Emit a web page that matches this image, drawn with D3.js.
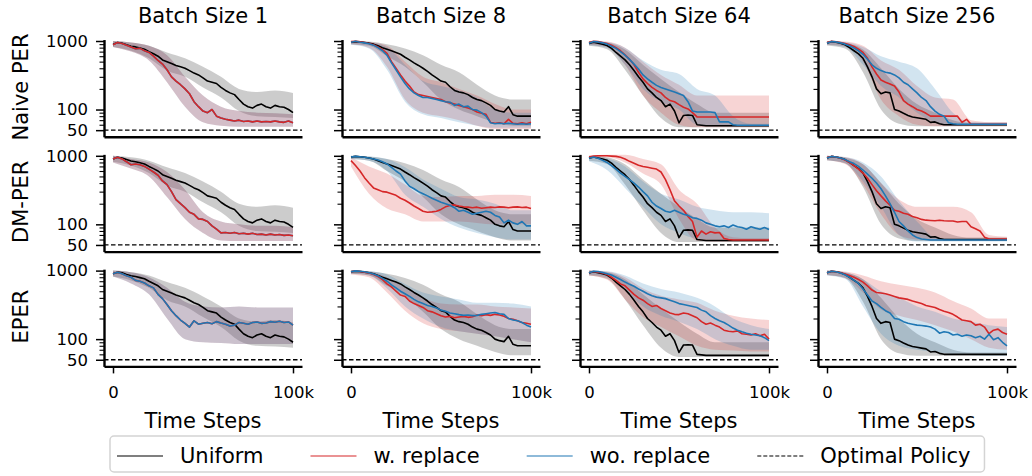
<!DOCTYPE html>
<html>
<head>
<meta charset="utf-8">
<title>PER variants by batch size</title>
<script src="https://d3js.org/d3.v7.min.js"></script>
<style>
  body { margin: 0; background: #fff; }
  svg { font-family: 'DejaVu Sans', sans-serif; }
</style>
</head>
<body>
<script>
// ---- labels / ticks
const batchTitles = ['Batch Size 1', 'Batch Size 8', 'Batch Size 64', 'Batch Size 256'];
const rowNames = ['Naive PER', 'DM-PER', 'EPER'];
const xTicks = [0, 100000];
const xTickLabels = ['0', '100k'];
const yMajor = [50, 100, 1000];
const yMinor = [60, 70, 80, 90, 200, 300, 400, 500, 600, 700, 800, 900];
const optimal = 50;
const steps = d3.range(0, 100001, 2500);     // 41 samples
const bandSteps = d3.range(0, 100001, 10000); // 11 samples

// ---- Uniform (same for every PER row)
const uni1 = [900,950,930,880,840,820,790,760,700,650,600,530,500,470,440,420,400,370,340,320,290,260,250,240,210,190,175,165,140,120,110,105,115,120,110,105,115,110,108,100,90];
const uni1Lo = [820,720,560,370,300,210,150,95,80,78,75];
const uni1Hi = [1000,950,850,680,560,420,300,200,180,190,175];
const uni8 = [960,980,970,950,930,900,850,800,760,720,680,640,580,530,480,440,400,360,320,290,260,250,215,190,180,175,165,150,140,135,125,115,100,95,92,110,84,80,80,80,80];
const uni8Lo = [900,850,600,420,250,140,100,80,65,58,58];
const uni8Hi = [1000,980,900,780,620,450,350,230,160,140,140];
const uni64 = [920,960,930,900,860,780,680,600,530,450,370,300,250,200,175,150,135,110,120,95,64,82,83,82,60,59,58,58,58,58,58,58,58,58,58,58,58,58,58,58,58];
const uni64Lo = [850,760,380,160,75,55,55,55,55,55,55];
const uni64Hi = [1000,950,750,450,280,180,120,90,90,90,90];
const uni256 = [930,980,960,930,880,800,720,650,560,420,300,200,170,180,175,100,95,88,82,78,76,74,72,65,66,62,60,60,60,60,60,60,60,60,60,60,60,60,60,60,60];
const uni256Lo = [860,780,350,100,62,57,57,57,57,57,57];
const uni256Hi = [1000,940,750,400,200,120,90,70,64,64,64];

// ---- Naive PER (batch 1: with and without replacement coincide)
const naiveW1 = [880,950,920,870,820,770,780,720,680,600,520,460,380,300,260,230,200,170,130,110,95,90,100,80,75,72,70,68,70,67,68,66,68,66,67,66,68,66,65,68,64];
const naiveW1Lo = [820,700,520,250,110,65,58,56,56,56,56];
const naiveW1Hi = [1000,950,850,620,300,160,110,95,90,88,85];
const naiveW8 = [980,990,970,950,920,880,820,750,660,500,400,320,260,220,180,165,160,155,150,145,140,130,125,120,115,110,105,100,92,88,85,65,63,64,62,72,63,62,64,62,65];
const naiveW8Lo = [900,800,420,140,90,80,70,58,52,52,52];
const naiveW8Hi = [1000,970,850,500,300,250,200,160,120,100,100];
const naiveWo8 = [960,990,960,940,910,870,800,720,620,480,380,300,240,200,175,160,150,150,145,140,135,130,128,115,120,110,112,100,98,90,80,64,62,63,62,63,62,61,62,61,62];
const naiveWo8Lo = [880,780,380,130,85,75,65,58,54,54,54];
const naiveWo8Hi = [1000,960,820,450,260,220,190,150,100,90,90];
const naiveW64 = [950,990,980,950,920,870,800,720,630,540,450,350,280,240,210,190,175,150,135,130,118,108,102,90,78,78,78,78,78,78,78,78,78,78,78,78,78,78,78,78,78];
const naiveW64Lo = [880,820,450,160,90,60,55,55,55,55,55];
const naiveW64Hi = [1000,980,800,500,320,230,160,160,160,160,160];
const naiveWo64 = [930,980,970,940,900,840,780,700,620,540,460,390,320,280,250,225,210,200,190,180,170,160,130,95,92,92,92,92,90,66,66,66,60,59,59,59,59,59,59,59,59];
const naiveWo64Lo = [870,800,450,200,130,100,60,57,57,57,57];
const naiveWo64Hi = [1000,970,800,520,380,330,200,160,80,62,62];
const naiveW256 = [950,990,975,950,920,880,830,760,680,560,420,330,270,250,235,220,180,135,120,110,100,95,88,80,80,80,80,80,80,80,65,72,61,61,61,61,61,61,61,61,61];
const naiveW256Lo = [880,830,500,140,80,60,57,57,57,57,57];
const naiveW256Hi = [1000,980,850,520,380,220,150,140,70,66,66];
const naiveWo256 = [930,980,970,940,900,850,790,720,640,540,450,400,370,350,340,320,290,250,230,200,175,150,135,110,95,85,80,64,62,61,61,61,61,61,61,61,61,61,61,61,61];
const naiveWo256Lo = [880,820,450,220,150,90,65,58,58,58,58];
const naiveWo256Hi = [1000,970,820,600,500,400,200,90,65,64,64];

// ---- DM-PER
const dmW1 = [900,950,900,820,740,760,740,700,640,580,520,430,380,300,230,200,175,150,140,120,118,110,95,85,75,76,74,76,73,74,72,74,71,72,70,72,70,71,69,70,68];
const dmW1Lo = [800,650,500,250,120,75,58,57,57,57,57];
const dmW1Hi = [1000,900,800,580,320,150,110,100,95,95,90];
const dmW8 = [850,720,600,480,400,340,320,300,295,280,265,240,225,205,185,170,155,150,152,155,165,180,188,192,185,180,178,175,178,172,175,178,176,180,178,175,178,180,176,178,170];
const dmW8Lo = [700,280,170,140,110,110,110,105,100,100,100];
const dmW8Hi = [950,700,550,380,260,250,260,260,270,270,260];
const dmWo8 = [960,980,970,950,930,900,870,820,760,680,600,540,430,360,330,300,280,260,240,225,210,200,190,175,155,160,150,140,145,150,155,150,135,128,105,115,105,100,110,95,95];
const dmWo8Lo = [900,850,600,270,180,120,90,75,65,60,60];
const dmWo8Hi = [1000,980,900,680,450,330,250,230,200,160,160];
const dmW64 = [960,990,1000,1000,1000,990,980,950,900,830,780,730,700,680,660,640,580,450,320,220,185,160,130,110,65,80,72,78,75,76,62,60,59,59,59,59,59,59,59,59,59];
const dmW64Lo = [900,950,800,550,380,120,58,56,56,56,56];
const dmW64Hi = [1000,1040,1040,900,750,320,200,90,65,63,63];
const dmWo64 = [920,960,920,860,800,720,640,560,500,450,400,350,300,260,210,185,170,155,150,160,150,140,135,125,122,115,105,100,95,92,95,90,98,92,90,85,92,88,85,90,84];
const dmWo64Lo = [830,620,340,180,100,75,62,60,60,60,60];
const dmWo64Hi = [1000,920,700,420,280,230,180,160,150,150,145];
const dmW256 = [940,980,960,920,870,800,720,640,560,470,380,310,260,220,190,160,155,145,140,130,125,118,115,114,113,115,113,112,112,108,110,110,92,86,80,65,61,61,61,61,61];
const dmW256Lo = [860,760,380,140,70,60,58,58,58,57,57];
const dmW256Hi = [1000,960,750,400,230,180,180,180,150,70,66];
const dmWo256 = [930,980,960,930,880,820,770,700,620,540,470,400,330,260,200,150,110,95,80,70,64,61,60,59,59,59,59,59,59,59,59,59,59,59,59,59,59,59,59,59,59];
const dmWo256Lo = [860,780,420,180,70,56,56,56,56,56,56];
const dmWo256Hi = [1000,960,800,500,220,110,65,62,62,62,62];

// ---- EPER
const eperWo1 = [900,950,900,840,800,720,700,660,600,560,450,390,320,260,220,190,170,150,185,165,170,175,168,180,172,165,155,160,175,170,165,175,178,170,172,180,176,182,175,178,160];
const eperWo1Lo = [820,650,450,200,100,90,88,85,85,85,85];
const eperWo1Hi = [1000,950,800,560,350,300,290,300,290,290,290];
const eperW8 = [960,990,970,950,920,880,820,740,640,580,500,440,420,360,330,310,290,260,250,235,220,210,215,205,210,215,208,212,225,220,228,222,230,225,215,200,195,185,175,170,165];
const eperW8Lo = [880,800,480,260,170,140,130,120,110,100,90];
const eperW8Hi = [1000,970,800,560,400,330,320,320,300,290,280];
const eperWo8 = [960,990,980,960,930,890,840,770,700,620,560,500,460,420,380,350,330,310,300,285,265,255,240,235,228,222,225,220,222,230,235,240,245,235,230,200,190,185,175,160,150];
const eperWo8Lo = [900,850,550,300,200,150,130,120,110,100,90];
const eperWo8Hi = [1000,980,880,640,480,420,380,340,340,330,300];
const eperW64 = [930,970,950,920,880,800,720,640,600,520,450,400,370,330,300,310,280,260,240,230,228,240,235,220,205,180,165,172,160,150,135,130,128,132,120,118,115,120,112,118,100];
const eperW64Lo = [850,740,380,210,150,110,80,70,68,66,66];
const eperW64Hi = [1000,970,800,550,430,380,340,260,220,200,190];
const eperWo64 = [930,980,970,940,900,860,800,740,680,630,590,540,500,460,430,410,400,390,370,350,330,320,310,300,290,265,250,220,200,185,175,160,145,135,128,122,118,115,112,105,95];
const eperWo64Lo = [870,800,520,300,220,180,140,100,80,70,70];
const eperWo64Hi = [1000,980,850,650,540,480,400,300,200,160,140];
const eperW256 = [930,980,960,930,890,850,800,740,680,600,520,480,470,460,440,420,400,390,380,360,345,330,310,300,290,270,255,245,230,210,190,185,180,160,165,150,120,135,140,125,118];
const eperW256Lo = [860,780,480,270,220,190,160,130,100,75,70];
const eperW256Hi = [1000,970,850,700,620,560,480,360,280,200,200];
const eperWo256 = [930,980,960,920,870,800,720,650,540,440,360,330,290,260,240,200,195,180,170,165,160,158,155,150,140,122,128,125,115,118,110,115,112,105,110,100,118,98,105,90,80];
const eperWo256Lo = [850,760,300,120,80,70,65,60,58,57,57];
const eperWo256Hi = [1000,950,750,500,400,300,250,200,180,160,150];

const colors = { uniform: '#000000', w: '#d62728', wo: '#1f77b4' };

const S = (key, v, lo, hi) => ({ key, v, lo, hi });
// batch size 1: both replacement modes give the same curve, the later one hides the other
const panels = [
  { row: 0, col: 0, series: [S('uniform', uni1, uni1Lo, uni1Hi), S('wo', naiveW1, naiveW1Lo, naiveW1Hi), S('w', naiveW1, naiveW1Lo, naiveW1Hi)] },
  { row: 0, col: 1, series: [S('uniform', uni8, uni8Lo, uni8Hi), S('w', naiveW8, naiveW8Lo, naiveW8Hi), S('wo', naiveWo8, naiveWo8Lo, naiveWo8Hi)] },
  { row: 0, col: 2, series: [S('uniform', uni64, uni64Lo, uni64Hi), S('w', naiveW64, naiveW64Lo, naiveW64Hi), S('wo', naiveWo64, naiveWo64Lo, naiveWo64Hi)] },
  { row: 0, col: 3, series: [S('uniform', uni256, uni256Lo, uni256Hi), S('w', naiveW256, naiveW256Lo, naiveW256Hi), S('wo', naiveWo256, naiveWo256Lo, naiveWo256Hi)] },
  { row: 1, col: 0, series: [S('uniform', uni1, uni1Lo, uni1Hi), S('wo', dmW1, dmW1Lo, dmW1Hi), S('w', dmW1, dmW1Lo, dmW1Hi)] },
  { row: 1, col: 1, series: [S('uniform', uni8, uni8Lo, uni8Hi), S('w', dmW8, dmW8Lo, dmW8Hi), S('wo', dmWo8, dmWo8Lo, dmWo8Hi)] },
  { row: 1, col: 2, series: [S('uniform', uni64, uni64Lo, uni64Hi), S('w', dmW64, dmW64Lo, dmW64Hi), S('wo', dmWo64, dmWo64Lo, dmWo64Hi)] },
  { row: 1, col: 3, series: [S('uniform', uni256, uni256Lo, uni256Hi), S('w', dmW256, dmW256Lo, dmW256Hi), S('wo', dmWo256, dmWo256Lo, dmWo256Hi)] },
  { row: 2, col: 0, series: [S('uniform', uni1, uni1Lo, uni1Hi), S('w', eperWo1, eperWo1Lo, eperWo1Hi), S('wo', eperWo1, eperWo1Lo, eperWo1Hi)] },
  { row: 2, col: 1, series: [S('uniform', uni8, uni8Lo, uni8Hi), S('w', eperW8, eperW8Lo, eperW8Hi), S('wo', eperWo8, eperWo8Lo, eperWo8Hi)] },
  { row: 2, col: 2, series: [S('uniform', uni64, uni64Lo, uni64Hi), S('w', eperW64, eperW64Lo, eperW64Hi), S('wo', eperWo64, eperWo64Lo, eperWo64Hi)] },
  { row: 2, col: 3, series: [S('uniform', uni256, uni256Lo, uni256Hi), S('w', eperW256, eperW256Lo, eperW256Hi), S('wo', eperWo256, eperWo256Lo, eperWo256Hi)] }
];

const svg = d3.select('body').append('svg').attr('width', 1032).attr('height', 476);

panels.forEach(p => {
  const sx = 104 + 238 * p.col;
  const top = 41 + 114.8 * p.row;     // pixel row of the 1000 tick
  const x = d3.scaleLinear().domain([-5000, 105000]).range([sx, sx + 198]);
  const y = d3.scaleLog().domain([40, 1050]).range([top + 95.8, top - 1.45]);
  const g = svg.append('g');

  const area = d3.area().x(d => x(d[0])).y0(d => y(d[1])).y1(d => y(d[2])).curve(d3.curveMonotoneX);
  const line = d3.line().x((d, i) => x(steps[i])).y(d => y(d));

  p.series.forEach(s => {
    g.append('path')
      .datum(bandSteps.map((t, i) => [t, s.lo[i], s.hi[i]]))
      .attr('fill', colors[s.key]).attr('fill-opacity', 0.2)
      .attr('d', area);
  });
  p.series.forEach(s => {
    g.append('path').datum(s.v)
      .attr('fill', 'none').attr('stroke', colors[s.key])
      .attr('stroke-width', 1.6).attr('stroke-linejoin', 'round')
      .attr('d', line);
  });

  // optimal policy
  g.append('line')
    .attr('x1', sx).attr('x2', sx + 198).attr('y1', y(optimal)).attr('y2', y(optimal))
    .attr('stroke', '#000').attr('stroke-width', 1.3).attr('stroke-dasharray', '4.5,2.5');

  // y axis (labels only on the first column)
  const ya = g.append('g').attr('transform', `translate(${sx},0)`)
    .call(d3.axisLeft(y).tickValues(yMajor)
      .tickFormat(p.col === 0 ? d3.format('d') : '')
      .tickSize(8).tickPadding(8).tickSizeOuter(0));
  g.append('g').attr('transform', `translate(${sx},0)`)
    .call(d3.axisLeft(y).tickValues(yMinor).tickFormat('').tickSize(4.5))
    .call(a => a.select('.domain').remove())
    .selectAll('line').attr('stroke-width', 1.1);
  ya.select('.domain').attr('stroke-width', 2.4);
  ya.selectAll('.tick line').attr('stroke-width', 1.5);
  ya.selectAll('text').attr('font-size', 16.5).attr('font-family', 'DejaVu Sans').attr('fill', '#000');

  // x axis (ticks only on the bottom row)
  const xa = g.append('g').attr('transform', `translate(0,${top + 95.8})`)
    .call(d3.axisBottom(x).tickValues(p.row === 2 ? xTicks : [])
      .tickFormat((d, i) => xTickLabels[i]).tickSize(7).tickPadding(13).tickSizeOuter(0));
  xa.select('.domain').attr('stroke-width', 2.4);
  xa.selectAll('.tick line').attr('stroke-width', 1.5);
  xa.selectAll('text').attr('font-size', 16.5).attr('font-family', 'DejaVu Sans').attr('fill', '#000');

  if (p.row === 0) {
    svg.append('text').attr('x', x(50000)).attr('y', 23).attr('text-anchor', 'middle')
      .attr('font-size', 21).text(batchTitles[p.col]);
  }
  if (p.row === 2) {
    svg.append('text').attr('x', x(50000)).attr('y', 428).attr('text-anchor', 'middle')
      .attr('font-size', 21).text('Time Steps');
  }
  if (p.col === 0) {
    svg.append('text').attr('transform', `translate(28,${top + 46}) rotate(-90)`)
      .attr('text-anchor', 'middle').attr('font-size', 21).text(rowNames[p.row]);
  }
});

// legend
const legendItems = [
  { label: 'Uniform', color: colors.uniform, dash: null },
  { label: 'w. replace', color: colors.w, dash: null },
  { label: 'wo. replace', color: colors.wo, dash: null },
  { label: 'Optimal Policy', color: '#000', dash: '4,2' }
];
const lg = svg.append('g');
const box = lg.append('rect').attr('x', 110).attr('y', 436).attr('height', 36).attr('rx', 4)
  .attr('fill', '#fff').attr('stroke', '#d4d4d4').attr('stroke-width', 1.5);
let cx = 117;
const colGap = 47;
legendItems.forEach(it => {
  lg.append('line').attr('x1', cx).attr('x2', cx + 46).attr('y1', 456).attr('y2', 456)
    .attr('stroke', it.color).attr('stroke-width', 1.2).attr('stroke-dasharray', it.dash);
  const t = lg.append('text').attr('x', cx + 63).attr('y', 456).attr('dy', '0.35em')
    .attr('font-size', 21).text(it.label);
  cx = cx + 63 + t.node().getComputedTextLength() + colGap;
});
box.attr('width', cx - colGap + 14 - 110);
</script>
</body>
</html>
